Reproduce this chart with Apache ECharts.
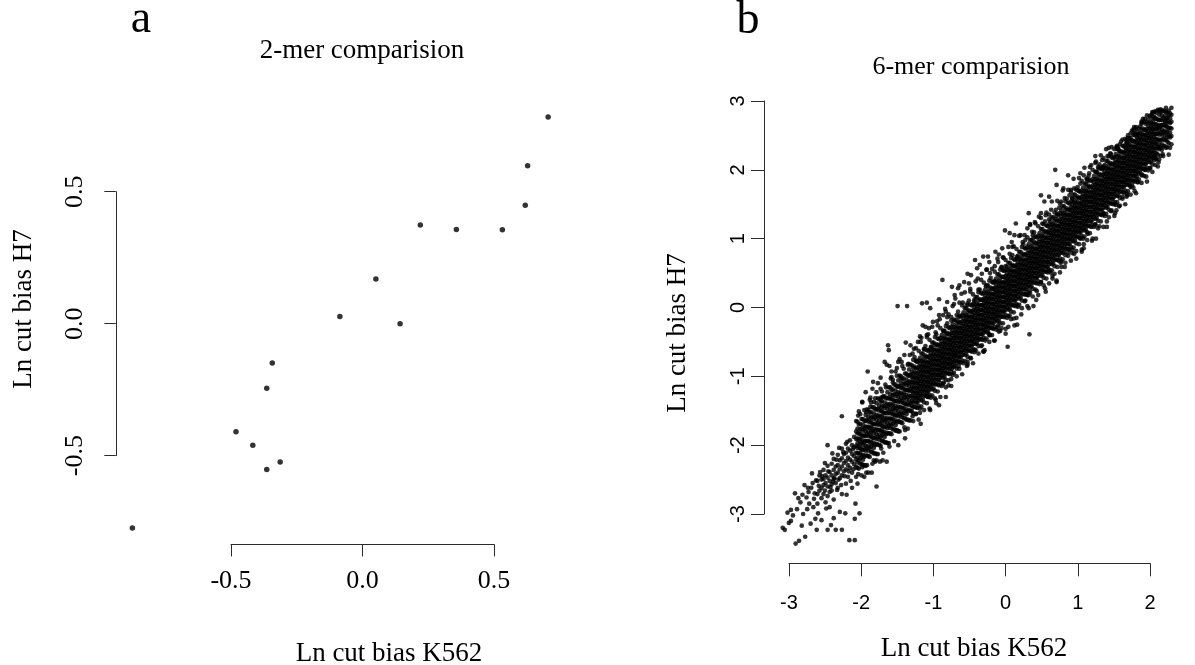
<!DOCTYPE html>
<html>
<head>
<meta charset="utf-8">
<title>2-mer / 6-mer comparision</title>
<script src="https://cdn.jsdelivr.net/npm/echarts@6/dist/echarts.min.js"></script>
<style>
 html,body{margin:0;padding:0;background:#fff;}
 #chart{width:1195px;height:665px;}
</style>
</head>
<body>
<div id="chart"></div>
<script>
// ---- panel a : 2-mer, Ln cut bias K562 vs H7 ----
var k562_2mer = [-0.875,-0.481,-0.417,-0.364,-0.313,-0.364,-0.343,-0.086,0.051,0.143,0.220,0.357,0.532,0.619,0.628,0.706];
var h7_2mer   = [-0.774,-0.409,-0.460,-0.552,-0.524,-0.245,-0.149,0.027,0.169,0.000,0.374,0.357,0.356,0.449,0.598,0.783];
var ticks2_x = [-0.5, 0, 0.5];
var ticks2_y = [-0.5, 0, 0.5];

// ---- panel b : 6-mer ----
// sparse dots, [K562, H7]
var mer6_outer = [
 [-3.07,-3.2],[-3.04,-3.23],[-2.95,-2.94],[-2.95,-3.1],[-2.89,-2.7],[-2.88,-3.43],[-2.83,-3.39],[-2.79,-3.17],[-2.75,-2.58],[-2.74,-3.33],
 [-2.71,-2.93],[-2.69,-2.68],[-2.66,-3.14],[-2.64,-2.41],[-2.59,-3.07],[-2.57,-3.23],[-2.55,-2.99],[-2.58,-2.51],[-2.52,-2.39],[-2.5,-3.09],
 [-2.47,-2.49],[-2.43,-2.92],[-2.41,-3.23],[-2.41,-2.0],[-2.38,-2.68],[-2.36,-3.16],[-2.32,-3.06],[-2.31,-2.48],[-2.29,-3.23],[-2.27,-2.65],
 [-2.23,-2.97],[-2.2,-1.58],[-2.2,-3.23],[-2.15,-2.99],[-2.13,-2.72],[-2.09,-3.38],[-2.01,-3.38],[-2.01,-3.07],[-2.0,-2.85],[-1.94,-2.99],
 [-1.97,-2.56],[-1.87,-2.46],[-1.81,-2.4],[-1.76,-2.4],[-1.69,-2.6],[-1.71,-2.24],[-1.69,-2.22],[-1.64,-2.24],[-1.6,-2.22],[-1.54,-2.24],
 [-2.86,-2.93],[-2.81,-2.83],[-2.77,-3.0],[-2.72,-2.76],[-2.68,-2.85],[-2.65,-2.62],[-2.62,-2.9],[-2.6,-2.7],
 [-2.54,-2.59],[-2.49,-2.45],[-2.45,-2.66],[-2.4,-2.38],[-2.37,-2.61],[-2.33,-2.53],[-2.28,-2.21],[-2.25,-2.5],[-2.21,-2.58],[-2.18,-2.1],
 [-2.16,-2.45],[-2.12,-1.95],[-2.1,-2.38],[-2.07,-2.52],[-2.04,-2.06],[-2.03,-2.35],[-2.45,-2.26],[-2.34,-2.12],[-2.24,-2.04],[-2.63,-2.55],
 [-2.61,-2.78],[-2.7,-2.62],[-2.78,-2.72],[-2.84,-2.77],[-2.92,-3.02],[-2.98,-3.13],[-3.0,-2.98],
 [-1.82,-0.93],[-1.74,-1.08],[-1.57,-0.79],[-1.54,-0.83],[-1.52,-0.55],[-1.51,-0.62],[-1.38,0.02],[-1.24,0.02],[-1.26,-0.51],[-1.37,-0.79],
 [-1.02,0.06],[-0.95,0.07],[-1.01,-0.26],[-0.97,-0.28],[-0.9,-0.01],[-0.77,0.12],[-0.72,0.4],[-0.65,0.08],[-0.58,0.3],[-0.49,0.28],
 [-0.35,0.49],[-0.24,0.69],[-0.21,0.57],[-0.12,0.74],[-0.05,0.74],[0.06,0.81],[0.11,0.77],[0.2,1.12],[0.27,1.08],[0.34,1.05],
 [0.36,1.22],[0.53,1.15],[0.55,1.37],[0.64,1.24],[0.7,1.32],[0.73,1.63],[0.78,1.54],[0.85,1.61],[0.94,2.0],[0.96,1.78],
 [1.06,1.73],[1.13,1.92],[1.17,1.71],[1.31,1.95],[1.36,1.92],[1.47,2.07],[1.54,2.12],[1.63,2.14],[1.63,2.04],[1.73,2.32],
 [1.84,2.33],[1.98,2.31],[2.05,2.46],[2.1,2.62],[2.14,2.5],[2.21,2.67],[2.26,2.74],[2.37,2.82],[2.47,2.62],[2.51,2.65],[2.56,2.7],[2.58,2.75],
 [-1.9,-1.37],[-1.85,-1.23],[-1.78,-1.44],[-1.69,-1.23],[-1.6,-1.3],[-1.48,-1.03],[-1.41,-0.93],[-1.32,-0.79],[-1.2,-0.69],[-1.14,-0.6],
 [-1.04,-0.5],[-0.95,-0.4],[-0.86,-0.21],[-0.77,-0.11],[-0.67,-0.06],[-0.54,0.18],[-0.47,0.32],[-0.4,0.37],[-0.3,0.47],[-0.17,0.62],
 [-0.03,0.66],[0.16,0.86],[0.3,0.95],[0.43,1.05],[0.57,1.2],[0.8,1.34],[1.03,1.54],[1.22,1.73],[1.4,1.87],[1.54,1.97],
 [0.24,-0.57],[0.56,-0.39],[0.34,-0.26],[0.38,-0.25],[0.25,-0.28],[-0.12,-0.64],[-0.1,-0.62],[-0.3,-0.74],[-0.35,-0.79],[-0.58,-0.89],
 [-0.63,-1.13],[-0.67,-1.3],[-0.77,-1.42],[-0.81,-1.39],[-0.9,-1.49],[-1.04,-1.69],[-1.11,-1.54],[-1.23,-1.76],[-1.27,-1.9],[-1.37,-2.0],
 [0.53,0.18],[0.55,-0.01],[0.66,0.11],[0.8,0.23],[0.9,0.42],[0.96,0.37],[1.03,0.59],[1.22,0.78],[1.33,0.81],[1.36,0.86],
 [1.54,1.0],[1.7,1.17],[1.82,1.37],[1.84,1.41],[2.0,1.63],[2.07,1.78],[2.14,1.9],[2.26,2.0],[2.47,2.33],[2.4,2.21],
 [-0.03,-0.4],[0.11,-0.35],[-0.54,-0.69],[-0.95,-1.27]
];
// dots on the ragged edge of the band, [K562, H7]
var mer6_edge = [
 [-1.96,-1.57],[-1.96,-2.42],[-1.9,-1.38],[-1.9,-2.32],[-1.84,-1.52],[-1.84,-2.4],[-1.78,-1.31],[-1.73,-1.37],[-1.73,-2.22],[-1.67,-1.1],
 [-1.62,-1.31],[-1.62,-2.05],[-1.56,-1.12],[-1.5,-0.85],[-1.5,-2.02],[-1.45,-1.09],[-1.39,-0.88],[-1.39,-1.78],[-1.33,-1.03],[-1.28,-0.69],
 [-1.28,-1.74],[-1.22,-0.82],[-1.16,-0.67],[-1.16,-1.58],[-1.1,-0.77],[-1.05,-0.42],[-1.05,-1.53],[-0.99,-0.61],[-0.93,-0.39],[-0.93,-1.3],
 [-0.88,-0.58],[-0.82,-0.36],[-0.82,-1.34],[-0.76,-0.17],[-0.7,-0.34],[-0.7,-1.09],[-0.65,-0.14],[-0.59,-0.19],[-0.59,-1.04],[-0.53,0.13],
 [-0.48,-0.14],[-0.48,-0.85],[-0.42,0.07],[-0.36,0.03],[-0.36,-0.85],[-0.31,0.27],[-0.25,0.11],[-0.25,-0.61],[-0.19,0.26],[-0.14,0.49],
 [-0.14,-0.55],[-0.08,0.31],[-0.02,0.5],[-0.02,-0.4],[0.04,0.38],[0.04,-0.48],[0.1,0.66],[0.1,-0.26],[0.15,0.58],[0.15,-0.3],
 [0.21,0.6],[0.21,-0.38],[0.27,-0.12],[0.27,0.78],[0.33,-0.16],[0.38,0.03],[0.38,0.74],[0.44,-0.1],[0.5,0.1],[0.5,0.98],
 [0.56,0.24],[0.62,0.02],[0.62,1.01],[0.67,0.24],[0.73,0.37],[0.73,1.3],[0.79,0.28],[0.85,0.53],[0.85,1.28],[0.9,0.46],
 [0.96,0.39],[0.96,1.33],[1.02,0.65],[1.08,0.59],[1.08,1.59],[1.13,0.8],[1.19,0.79],[1.19,1.59],[1.25,0.71],[1.31,1.0],
 [1.31,1.8],[1.36,0.92],[1.42,1.07],[1.42,1.84],[1.48,0.97],[1.53,1.21],[1.53,2.1],[1.59,1.18],[1.65,1.36],[1.65,2.05],
 [1.7,1.25],[1.76,1.4],[1.76,2.23],[1.82,1.51],[1.88,1.47],[1.88,2.28],[1.93,1.61],[1.99,1.61],[1.99,2.43],[2.05,1.76],
 [2.11,1.69],[2.11,2.53],[2.16,1.82],[2.22,1.93],[2.22,2.69],[2.28,1.9],[2.34,2.03],[2.4,2.14],[2.4,2.77],[2.46,2.11],[2.52,2.23],
 [-1.75,-1.18],[-1.63,-1.02],[-1.47,-0.93],[-1.35,-0.75],[-1.19,-0.55],[-1.08,-0.5],[-0.92,-0.3],[-0.8,-0.2],[-0.68,-0.02],[-0.57,0.02],
 [-0.44,0.2],[-0.33,0.35],[-0.2,0.42],[-0.07,0.55],[0.05,0.6],[0.18,0.72],[0.31,0.88],[0.46,0.95],[0.6,1.1],[0.75,1.22],
 [0.88,1.42],[1.0,1.45],[1.15,1.63],[1.28,1.7],[1.44,1.95],[1.58,2.02],[1.71,2.2],[1.86,2.32],[2.0,2.4],[2.12,2.6]
];
// dense part, one row per K562 value: [K562, H7, H7, ...]
var mer6_cols = [
 [-2.56,-2.52,-2.71,-2.85],[-2.53,-2.44,-2.66],[-2.5,-2.5,-2.62,-2.77],[-2.47,-2.36,-2.58,-2.71],[-2.44,-2.44,-2.55,-2.83],
 [-2.41,-2.3,-2.47,-2.6,-2.74],[-2.38,-2.39,-2.52,-2.9],[-2.35,-2.27,-2.44,-2.57,-2.66],[-2.32,-2.2,-2.36,-2.49,-2.79],
 [-2.29,-2.31,-2.42,-2.55],[-2.26,-2.14,-2.29,-2.4,-2.62],[-2.23,-2.22,-2.35,-2.48],[-2.2,-2.05,-2.19,-2.31,-2.44,-2.71],
 [-2.17,-2.13,-2.26,-2.38],[-2.14,-1.98,-2.11,-2.23,-2.35,-2.56],[-2.11,-2.05,-2.18,-2.29,-2.46],[-2.08,-1.93,-2.08,-2.21,-2.33],
 [-2.05,-2.0,-2.13,-2.24,-2.4,-2.62],[-2.02,-1.88,-2.03,-2.16,-2.28],
 [-1.99,-2.46,-2.32,-2.21,-2.11,-2.01,-1.91,-1.8,-1.65],
 [-1.95,-2.34,-2.22,-2.12,-2.02,-1.92,-1.82,-1.7,-1.51],
 [-1.91,-2.44,-2.27,-2.16,-2.06,-1.96,-1.86,-1.76,-1.62],
 [-1.87,-2.29,-2.17,-2.06,-1.96,-1.86,-1.76,-1.65,-1.49],
 [-1.83,-2.29,-2.15,-2.04,-1.94,-1.84,-1.74,-1.63,-1.48],
 [-1.79,-2.17,-2.05,-1.95,-1.85,-1.75,-1.65,-1.53,-1.34],
 [-1.75,-2.27,-2.1,-1.99,-1.89,-1.79,-1.69,-1.59,-1.45],
 [-1.71,-2.12,-2.0,-1.89,-1.79,-1.69,-1.59,-1.48,-1.32],
 [-1.67,-2.13,-1.99,-1.88,-1.78,-1.68,-1.58,-1.47,-1.32],
 [-1.63,-2.01,-1.89,-1.79,-1.69,-1.59,-1.49,-1.37,-1.18],
 [-1.59,-2.11,-1.94,-1.83,-1.73,-1.63,-1.53,-1.43,-1.29],
 [-1.55,-1.96,-1.84,-1.73,-1.63,-1.53,-1.43,-1.32,-1.16],
 [-1.51,-1.97,-1.83,-1.72,-1.62,-1.52,-1.42,-1.31,-1.16],
 [-1.47,-1.84,-1.72,-1.62,-1.52,-1.42,-1.32,-1.2,-1.01],
 [-1.43,-1.94,-1.77,-1.66,-1.56,-1.46,-1.36,-1.26,-1.12],
 [-1.39,-1.79,-1.67,-1.56,-1.46,-1.36,-1.26,-1.15,-0.99],
 [-1.35,-1.8,-1.66,-1.55,-1.45,-1.35,-1.25,-1.14,-0.99],
 [-1.31,-1.68,-1.56,-1.46,-1.36,-1.26,-1.16,-1.04,-0.85],
 [-1.27,-1.78,-1.61,-1.5,-1.4,-1.3,-1.2,-1.1,-0.96],
 [-1.23,-1.63,-1.51,-1.4,-1.3,-1.2,-1.1,-0.99,-0.83],
 [-1.19,-1.64,-1.5,-1.39,-1.29,-1.19,-1.09,-0.98,-0.83],
 [-1.15,-1.65,-1.54,-1.45,-1.38,-1.31,-1.24,-1.17,-1.1,-1.03,-0.96,-0.88,-0.76],
 [-1.11,-1.55,-1.45,-1.38,-1.31,-1.24,-1.17,-1.1,-1.03,-0.96,-0.88,-0.78,-0.59],
 [-1.07,-1.63,-1.43,-1.35,-1.28,-1.21,-1.14,-1.07,-1.0,-0.93,-0.86,-0.77,-0.63],
 [-1.03,-1.44,-1.35,-1.28,-1.21,-1.14,-1.07,-1.0,-0.93,-0.86,-0.78,-0.67,-0.44],
 [-0.99,-1.49,-1.38,-1.29,-1.22,-1.15,-1.08,-1.01,-0.94,-0.87,-0.8,-0.72,-0.6],
 [-0.95,-1.39,-1.29,-1.22,-1.15,-1.08,-1.01,-0.94,-0.87,-0.8,-0.72,-0.62,-0.43],
 [-0.91,-1.47,-1.27,-1.19,-1.12,-1.05,-0.98,-0.91,-0.84,-0.77,-0.7,-0.61,-0.47],
 [-0.87,-1.28,-1.19,-1.12,-1.05,-0.98,-0.91,-0.84,-0.77,-0.7,-0.62,-0.51,-0.28],
 [-0.83,-1.32,-1.21,-1.12,-1.05,-0.98,-0.91,-0.84,-0.77,-0.7,-0.63,-0.55,-0.43],
 [-0.79,-1.22,-1.12,-1.05,-0.98,-0.91,-0.84,-0.77,-0.7,-0.63,-0.55,-0.45,-0.26],
 [-0.75,-1.3,-1.1,-1.02,-0.95,-0.88,-0.81,-0.74,-0.67,-0.6,-0.53,-0.44,-0.3],
 [-0.71,-1.11,-1.02,-0.95,-0.88,-0.81,-0.74,-0.67,-0.6,-0.53,-0.45,-0.34,-0.11],
 [-0.67,-1.16,-1.05,-0.96,-0.89,-0.82,-0.75,-0.68,-0.61,-0.54,-0.47,-0.39,-0.27],
 [-0.63,-1.06,-0.96,-0.89,-0.82,-0.75,-0.68,-0.61,-0.54,-0.47,-0.39,-0.29,-0.1],
 [-0.59,-1.14,-0.94,-0.86,-0.79,-0.72,-0.65,-0.58,-0.51,-0.44,-0.37,-0.28,-0.14],
 [-0.55,-0.95,-0.86,-0.79,-0.72,-0.65,-0.58,-0.51,-0.44,-0.37,-0.29,-0.18,0.05],
 [-0.51,-1.0,-0.89,-0.8,-0.73,-0.66,-0.59,-0.52,-0.45,-0.38,-0.31,-0.23,-0.11],
 [-0.47,-0.89,-0.79,-0.72,-0.65,-0.58,-0.51,-0.44,-0.37,-0.3,-0.22,-0.12,0.07],
 [-0.43,-0.97,-0.77,-0.69,-0.62,-0.55,-0.48,-0.41,-0.34,-0.27,-0.2,-0.11,0.03],
 [-0.39,-0.78,-0.69,-0.62,-0.55,-0.48,-0.41,-0.34,-0.27,-0.2,-0.12,-0.01,0.22],
 [-0.35,-0.83,-0.72,-0.63,-0.56,-0.49,-0.42,-0.35,-0.28,-0.21,-0.14,-0.06,0.06],
 [-0.31,-0.73,-0.63,-0.56,-0.49,-0.42,-0.35,-0.28,-0.21,-0.14,-0.06,0.04,0.23],
 [-0.27,-0.81,-0.61,-0.53,-0.46,-0.39,-0.32,-0.25,-0.18,-0.11,-0.04,0.05,0.19],
 [-0.23,-0.62,-0.53,-0.46,-0.39,-0.32,-0.25,-0.18,-0.11,-0.04,0.04,0.15,0.38],
 [-0.19,-0.67,-0.56,-0.47,-0.4,-0.33,-0.26,-0.19,-0.12,-0.05,0.02,0.1,0.22],
 [-0.15,-0.56,-0.46,-0.39,-0.32,-0.25,-0.18,-0.11,-0.04,0.03,0.11,0.21,0.4],
 [-0.11,-0.64,-0.44,-0.36,-0.29,-0.22,-0.15,-0.08,-0.01,0.06,0.13,0.22,0.36],
 [-0.07,-0.45,-0.36,-0.29,-0.22,-0.15,-0.08,-0.01,0.06,0.13,0.21,0.32,0.55],
 [-0.03,-0.5,-0.39,-0.3,-0.23,-0.16,-0.09,-0.02,0.05,0.12,0.19,0.27,0.39],
 [0.01,-0.4,-0.3,-0.23,-0.16,-0.09,-0.02,0.05,0.12,0.19,0.27,0.37,0.56],
 [0.05,-0.48,-0.28,-0.2,-0.13,-0.06,0.01,0.08,0.15,0.22,0.29,0.38,0.52],
 [0.09,-0.29,-0.2,-0.13,-0.06,0.01,0.08,0.15,0.22,0.29,0.37,0.48,0.71],
 [0.13,-0.34,-0.23,-0.14,-0.07,0.0,0.07,0.14,0.21,0.28,0.35,0.43,0.55],
 [0.17,-0.23,-0.13,-0.06,0.01,0.08,0.15,0.22,0.29,0.36,0.44,0.54,0.73],
 [0.21,-0.31,-0.11,-0.03,0.04,0.11,0.18,0.25,0.32,0.39,0.46,0.55,0.69],
 [0.25,-0.12,-0.03,0.04,0.11,0.18,0.25,0.32,0.39,0.46,0.54,0.65,0.88],
 [0.29,-0.17,-0.06,0.03,0.1,0.17,0.24,0.31,0.38,0.45,0.52,0.6,0.72],
 [0.33,-0.07,0.03,0.1,0.17,0.24,0.31,0.38,0.45,0.52,0.6,0.7,0.89],
 [0.37,-0.15,0.05,0.13,0.2,0.27,0.34,0.41,0.48,0.55,0.62,0.71,0.85],
 [0.41,0.04,0.13,0.2,0.27,0.34,0.41,0.48,0.55,0.62,0.7,0.81,1.04],
 [0.45,-0.01,0.1,0.19,0.26,0.33,0.4,0.47,0.54,0.61,0.68,0.76,0.88],
 [0.49,0.09,0.19,0.26,0.33,0.4,0.47,0.54,0.61,0.68,0.76,0.86,1.05],
 [0.53,0.02,0.22,0.3,0.37,0.44,0.51,0.58,0.65,0.72,0.79,0.88,1.02],
 [0.57,0.21,0.3,0.37,0.44,0.51,0.58,0.65,0.72,0.79,0.87,0.98,1.21],
 [0.61,0.16,0.27,0.36,0.43,0.5,0.57,0.64,0.71,0.78,0.85,0.93,1.05],
 [0.65,0.26,0.36,0.43,0.5,0.57,0.64,0.71,0.78,0.85,0.93,1.03,1.22],
 [0.69,0.18,0.38,0.46,0.53,0.6,0.67,0.74,0.81,0.88,0.95,1.04,1.18],
 [0.73,0.37,0.46,0.53,0.6,0.67,0.74,0.81,0.88,0.95,1.03,1.14,1.37],
 [0.77,0.32,0.43,0.52,0.59,0.66,0.73,0.8,0.87,0.94,1.01,1.09,1.21],
 [0.81,0.42,0.52,0.59,0.66,0.73,0.8,0.87,0.94,1.01,1.09,1.19,1.38],
 [0.85,0.35,0.55,0.63,0.7,0.77,0.84,0.91,0.98,1.05,1.12,1.21,1.35],
 [0.89,0.54,0.63,0.7,0.77,0.84,0.91,0.98,1.05,1.12,1.2,1.31,1.54],
 [0.93,0.49,0.6,0.69,0.76,0.83,0.9,0.97,1.04,1.11,1.18,1.26,1.38],
 [0.97,0.59,0.69,0.76,0.83,0.9,0.97,1.04,1.11,1.18,1.26,1.36,1.55],
 [1.01,0.51,0.71,0.79,0.86,0.93,1.0,1.07,1.14,1.21,1.28,1.37,1.51],
 [1.05,0.7,0.79,0.86,0.93,1.0,1.07,1.14,1.21,1.28,1.36,1.47,1.7],
 [1.09,0.65,0.76,0.85,0.92,0.99,1.06,1.13,1.2,1.27,1.34,1.42,1.54],
 [1.13,0.75,0.85,0.92,0.99,1.06,1.13,1.2,1.27,1.34,1.42,1.52,1.71],
 [1.17,0.68,0.88,0.96,1.03,1.1,1.17,1.24,1.31,1.38,1.45,1.54,1.68],
 [1.21,0.87,0.96,1.03,1.1,1.17,1.24,1.31,1.38,1.45,1.53,1.64,1.87],
 [1.25,0.82,0.93,1.02,1.09,1.16,1.23,1.3,1.37,1.44,1.51,1.59,1.71],
 [1.29,0.92,1.02,1.09,1.16,1.23,1.3,1.37,1.44,1.51,1.59,1.69,1.88],
 [1.33,0.84,1.04,1.12,1.19,1.26,1.33,1.4,1.47,1.54,1.61,1.7,1.84],
 [1.37,1.03,1.12,1.19,1.26,1.33,1.4,1.47,1.54,1.61,1.69,1.8,2.03],
 [1.41,0.98,1.09,1.18,1.25,1.32,1.39,1.46,1.53,1.6,1.67,1.75,1.87],
 [1.45,1.08,1.18,1.25,1.32,1.39,1.46,1.53,1.6,1.67,1.75,1.85,2.04],
 [1.49,1.0,1.2,1.28,1.35,1.42,1.49,1.56,1.63,1.7,1.77,1.86,2.0],
 [1.53,1.2,1.29,1.36,1.43,1.5,1.57,1.64,1.71,1.78,1.86,1.97,2.2],
 [1.57,1.15,1.26,1.35,1.42,1.49,1.56,1.63,1.7,1.77,1.84,1.92,2.04],
 [1.61,1.25,1.35,1.42,1.49,1.56,1.63,1.7,1.77,1.84,1.92,2.02,2.21],
 [1.65,1.17,1.37,1.45,1.52,1.59,1.66,1.73,1.8,1.87,1.94,2.03,2.17],
 [1.69,1.36,1.45,1.52,1.59,1.66,1.73,1.8,1.87,1.94,2.02,2.13,2.3],
 [1.73,1.31,1.42,1.51,1.58,1.65,1.72,1.79,1.86,1.93,2.0,2.08,2.2],
 [1.77,1.41,1.51,1.58,1.65,1.72,1.79,1.86,1.93,2.0,2.08,2.18,2.33],
 [1.81,1.33,1.53,1.61,1.68,1.75,1.82,1.89,1.96,2.03,2.1,2.19,2.3],
 [1.85,1.53,1.62,1.69,1.76,1.83,1.9,1.97,2.04,2.11,2.19,2.3,2.35],
 [1.89,1.48,1.59,1.68,1.75,1.82,1.89,1.96,2.03,2.1,2.17,2.25,2.37],
 [1.93,1.58,1.68,1.75,1.82,1.89,1.96,2.03,2.1,2.17,2.25,2.35,2.44],
 [1.97,1.5,1.7,1.78,1.85,1.92,1.99,2.06,2.13,2.2,2.27,2.36,2.45],
 [2.01,1.69,1.78,1.85,1.92,1.99,2.06,2.13,2.2,2.27,2.35,2.46,2.5],
 [2.05,1.64,1.75,1.84,1.91,1.98,2.05,2.12,2.19,2.26,2.33,2.41,2.53],
 [2.09,1.74,1.84,1.91,1.98,2.05,2.12,2.19,2.26,2.33,2.41,2.51,2.58],
 [2.13,1.66,1.86,1.94,2.01,2.08,2.15,2.22,2.29,2.36,2.43,2.52,2.62],
 [2.17,1.86,1.95,2.02,2.09,2.16,2.23,2.3,2.37,2.44,2.52,2.6],
 [2.21,1.81,1.92,2.01,2.08,2.15,2.22,2.29,2.36,2.43,2.5,2.58,2.7],
 [2.25,1.91,2.01,2.08,2.15,2.22,2.29,2.36,2.43,2.5,2.58,2.7],
 [2.29,1.83,2.03,2.11,2.18,2.25,2.32,2.39,2.46,2.53,2.6,2.69,2.79],
 [2.33,2.02,2.11,2.18,2.25,2.32,2.39,2.46,2.53,2.6,2.68,2.78],
 [2.37,1.97,2.08,2.17,2.24,2.31,2.38,2.45,2.52,2.59,2.66,2.74,2.84],
 [2.41,2.07,2.17,2.24,2.31,2.38,2.45,2.52,2.59,2.66,2.74,2.85],
 [2.45,2.05,2.22,2.33,2.43,2.53,2.63,2.73,2.87],
 [2.49,2.2,2.32,2.43,2.53,2.63,2.73,2.84,2.88],
 [2.53,2.2,2.34,2.45,2.55,2.65,2.75,2.86],
 [2.57,2.32,2.44,2.54,2.64,2.74,2.84,2.9],
 [2.61,2.22,2.39,2.5,2.6,2.7,2.8,2.86],
 [2.65,2.37,2.49,2.6,2.7,2.8,2.9],
 [-1.97,-2.33,-2.25,-2.18,-2.11,-2.04,-1.97,-1.9,-1.83,-1.76,-1.66],
 [-1.93,-2.27,-2.19,-2.12,-2.05,-1.98,-1.91,-1.84,-1.77,-1.69,-1.55],
 [-1.89,-2.29,-2.21,-2.14,-2.07,-2.0,-1.93,-1.86,-1.79,-1.71,-1.62],
 [-1.85,-2.3,-2.15,-2.08,-2.01,-1.94,-1.87,-1.8,-1.73,-1.65,-1.56],
 [-1.81,-2.16,-2.08,-2.01,-1.94,-1.87,-1.8,-1.73,-1.66,-1.59,-1.49],
 [-1.77,-2.1,-2.02,-1.95,-1.88,-1.81,-1.74,-1.67,-1.6,-1.52,-1.38],
 [-1.73,-2.12,-2.04,-1.97,-1.9,-1.83,-1.76,-1.69,-1.62,-1.54,-1.45],
 [-1.69,-2.13,-1.98,-1.91,-1.84,-1.77,-1.7,-1.63,-1.56,-1.48,-1.39],
 [-1.65,-2.0,-1.92,-1.85,-1.78,-1.71,-1.64,-1.57,-1.5,-1.43,-1.33],
 [-1.61,-1.94,-1.86,-1.79,-1.72,-1.65,-1.58,-1.51,-1.44,-1.36,-1.22],
 [-1.57,-1.96,-1.88,-1.81,-1.74,-1.67,-1.6,-1.53,-1.46,-1.38,-1.29],
 [-1.53,-1.97,-1.82,-1.75,-1.68,-1.61,-1.54,-1.47,-1.4,-1.32,-1.23],
 [-1.49,-1.83,-1.75,-1.68,-1.61,-1.54,-1.47,-1.4,-1.33,-1.26,-1.16],
 [-1.45,-1.77,-1.69,-1.62,-1.55,-1.48,-1.41,-1.34,-1.27,-1.19,-1.05],
 [-1.41,-1.79,-1.71,-1.64,-1.57,-1.5,-1.43,-1.36,-1.29,-1.21,-1.12],
 [-1.37,-1.8,-1.65,-1.58,-1.51,-1.44,-1.37,-1.3,-1.23,-1.15,-1.06],
 [-1.33,-1.67,-1.59,-1.52,-1.45,-1.38,-1.31,-1.24,-1.17,-1.1,-1.0],
 [-1.29,-1.61,-1.53,-1.46,-1.39,-1.32,-1.25,-1.18,-1.11,-1.03,-0.89],
 [-1.25,-1.63,-1.55,-1.48,-1.41,-1.34,-1.27,-1.2,-1.13,-1.05,-0.96],
 [-1.21,-1.64,-1.49,-1.42,-1.35,-1.28,-1.21,-1.14,-1.07,-0.99,-0.9],
 [-1.17,-1.51,-1.43,-1.36,-1.29,-1.22,-1.15,-1.08,-1.01,-0.94,-0.84],
 [-1.13,-1.44,-1.36,-1.29,-1.22,-1.15,-1.08,-1.01,-0.94,-0.86,-0.72],
 [-1.09,-1.46,-1.38,-1.31,-1.24,-1.17,-1.1,-1.03,-0.96,-0.88,-0.79],
 [-1.05,-1.47,-1.32,-1.25,-1.18,-1.11,-1.04,-0.97,-0.9,-0.82,-0.73],
 [-1.01,-1.34,-1.26,-1.19,-1.12,-1.05,-0.98,-0.91,-0.84,-0.77,-0.67],
 [-0.97,-1.28,-1.2,-1.13,-1.06,-0.99,-0.92,-0.85,-0.78,-0.7,-0.56],
 [-0.93,-1.3,-1.22,-1.15,-1.08,-1.01,-0.94,-0.87,-0.8,-0.72,-0.63],
 [-0.89,-1.31,-1.16,-1.09,-1.02,-0.95,-0.88,-0.81,-0.74,-0.66,-0.57],
 [-0.85,-1.18,-1.1,-1.03,-0.96,-0.89,-0.82,-0.75,-0.68,-0.61,-0.51],
 [-0.81,-1.11,-1.03,-0.96,-0.89,-0.82,-0.75,-0.68,-0.61,-0.53,-0.39],
 [-0.77,-1.13,-1.05,-0.98,-0.91,-0.84,-0.77,-0.7,-0.63,-0.55,-0.46],
 [-0.73,-1.14,-0.99,-0.92,-0.85,-0.78,-0.71,-0.64,-0.57,-0.49,-0.4],
 [-0.69,-1.01,-0.93,-0.86,-0.79,-0.72,-0.65,-0.58,-0.51,-0.44,-0.34],
 [-0.65,-0.95,-0.87,-0.8,-0.73,-0.66,-0.59,-0.52,-0.45,-0.37,-0.23],
 [-0.61,-0.97,-0.89,-0.82,-0.75,-0.68,-0.61,-0.54,-0.47,-0.39,-0.3],
 [-0.57,-0.98,-0.83,-0.76,-0.69,-0.62,-0.55,-0.48,-0.41,-0.33,-0.24],
 [-0.53,-0.85,-0.77,-0.7,-0.63,-0.56,-0.49,-0.42,-0.35,-0.28,-0.18],
 [-0.49,-0.78,-0.7,-0.63,-0.56,-0.49,-0.42,-0.35,-0.28,-0.2,-0.06],
 [-0.45,-0.8,-0.72,-0.65,-0.58,-0.51,-0.44,-0.37,-0.3,-0.22,-0.13],
 [-0.41,-0.81,-0.66,-0.59,-0.52,-0.45,-0.38,-0.31,-0.24,-0.16,-0.07],
 [-0.37,-0.68,-0.6,-0.53,-0.46,-0.39,-0.32,-0.25,-0.18,-0.11,-0.01],
 [-0.33,-0.62,-0.54,-0.47,-0.4,-0.33,-0.26,-0.19,-0.12,-0.04,0.1],
 [-0.29,-0.64,-0.56,-0.49,-0.42,-0.35,-0.28,-0.21,-0.14,-0.06,0.03],
 [-0.25,-0.65,-0.5,-0.43,-0.36,-0.29,-0.22,-0.15,-0.08,0.0,0.09],
 [-0.21,-0.52,-0.44,-0.37,-0.3,-0.23,-0.16,-0.09,-0.02,0.05,0.15],
 [-0.17,-0.46,-0.38,-0.31,-0.24,-0.17,-0.1,-0.03,0.04,0.12,0.26],
 [-0.13,-0.47,-0.39,-0.32,-0.25,-0.18,-0.11,-0.04,0.03,0.11,0.2],
 [-0.09,-0.48,-0.33,-0.26,-0.19,-0.12,-0.05,0.02,0.09,0.17,0.26],
 [-0.05,-0.35,-0.27,-0.2,-0.13,-0.06,0.01,0.08,0.15,0.22,0.32],
 [-0.01,-0.29,-0.21,-0.14,-0.07,0.0,0.07,0.14,0.21,0.29,0.43],
 [0.03,-0.31,-0.23,-0.16,-0.09,-0.02,0.05,0.12,0.19,0.27,0.36],
 [0.07,-0.32,-0.17,-0.1,-0.03,0.04,0.11,0.18,0.25,0.33,0.42],
 [0.11,-0.19,-0.11,-0.04,0.03,0.1,0.17,0.24,0.31,0.38,0.48],
 [0.15,-0.13,-0.05,0.02,0.09,0.16,0.23,0.3,0.37,0.45,0.59],
 [0.19,-0.14,-0.06,0.01,0.08,0.15,0.22,0.29,0.36,0.44,0.53],
 [0.23,-0.15,0.0,0.07,0.14,0.21,0.28,0.35,0.42,0.5,0.59],
 [0.27,-0.02,0.06,0.13,0.2,0.27,0.34,0.41,0.48,0.55,0.65],
 [0.31,0.04,0.12,0.19,0.26,0.33,0.4,0.47,0.54,0.62,0.76],
 [0.35,0.02,0.1,0.17,0.24,0.31,0.38,0.45,0.52,0.6,0.69],
 [0.39,0.01,0.16,0.23,0.3,0.37,0.44,0.51,0.58,0.66,0.75],
 [0.43,0.14,0.22,0.29,0.36,0.43,0.5,0.57,0.64,0.71,0.81],
 [0.47,0.2,0.28,0.35,0.42,0.49,0.56,0.63,0.7,0.78,0.92],
 [0.51,0.19,0.27,0.34,0.41,0.48,0.55,0.62,0.69,0.77,0.86],
 [0.55,0.18,0.33,0.4,0.47,0.54,0.61,0.68,0.75,0.83,0.92],
 [0.59,0.31,0.39,0.46,0.53,0.6,0.67,0.74,0.81,0.88,0.98],
 [0.63,0.37,0.45,0.52,0.59,0.66,0.73,0.8,0.87,0.95,1.09],
 [0.67,0.35,0.43,0.5,0.57,0.64,0.71,0.78,0.85,0.93,1.02],
 [0.71,0.34,0.49,0.56,0.63,0.7,0.77,0.84,0.91,0.99,1.08],
 [0.75,0.47,0.55,0.62,0.69,0.76,0.83,0.9,0.97,1.04,1.14],
 [0.79,0.53,0.61,0.68,0.75,0.82,0.89,0.96,1.03,1.11,1.25],
 [0.83,0.51,0.59,0.66,0.73,0.8,0.87,0.94,1.01,1.09,1.18],
 [0.87,0.51,0.66,0.73,0.8,0.87,0.94,1.01,1.08,1.16,1.25],
 [0.91,0.64,0.72,0.79,0.86,0.93,1.0,1.07,1.14,1.21,1.31],
 [0.95,0.7,0.78,0.85,0.92,0.99,1.06,1.13,1.2,1.28,1.42],
 [0.99,0.68,0.76,0.83,0.9,0.97,1.04,1.11,1.18,1.26,1.35],
 [1.03,0.67,0.82,0.89,0.96,1.03,1.1,1.17,1.24,1.32,1.41],
 [1.07,0.8,0.88,0.95,1.02,1.09,1.16,1.23,1.3,1.37,1.47],
 [1.11,0.86,0.94,1.01,1.08,1.15,1.22,1.29,1.36,1.44,1.58],
 [1.15,0.84,0.92,0.99,1.06,1.13,1.2,1.27,1.34,1.42,1.51],
 [1.19,0.84,0.99,1.06,1.13,1.2,1.27,1.34,1.41,1.49,1.58],
 [1.23,0.97,1.05,1.12,1.19,1.26,1.33,1.4,1.47,1.54,1.64],
 [1.27,1.03,1.11,1.18,1.25,1.32,1.39,1.46,1.53,1.61,1.75],
 [1.31,1.01,1.09,1.16,1.23,1.3,1.37,1.44,1.51,1.59,1.68],
 [1.35,1.0,1.15,1.22,1.29,1.36,1.43,1.5,1.57,1.65,1.74],
 [1.39,1.13,1.21,1.28,1.35,1.42,1.49,1.56,1.63,1.7,1.8],
 [1.43,1.19,1.27,1.34,1.41,1.48,1.55,1.62,1.69,1.77,1.91],
 [1.47,1.17,1.25,1.32,1.39,1.46,1.53,1.6,1.67,1.75,1.84],
 [1.51,1.17,1.32,1.39,1.46,1.53,1.6,1.67,1.74,1.82,1.91],
 [1.55,1.3,1.38,1.45,1.52,1.59,1.66,1.73,1.8,1.87,1.97],
 [1.59,1.36,1.44,1.51,1.58,1.65,1.72,1.79,1.86,1.94,2.08],
 [1.63,1.34,1.42,1.49,1.56,1.63,1.7,1.77,1.84,1.92,2.01],
 [1.67,1.33,1.48,1.55,1.62,1.69,1.76,1.83,1.9,1.98,2.07],
 [1.71,1.46,1.54,1.61,1.68,1.75,1.82,1.89,1.96,2.03,2.13],
 [1.75,1.52,1.6,1.67,1.74,1.81,1.88,1.95,2.02,2.1,2.24],
 [1.79,1.5,1.58,1.65,1.72,1.79,1.86,1.93,2.0,2.08,2.17],
 [1.83,1.49,1.64,1.71,1.78,1.85,1.92,1.99,2.06,2.14,2.23],
 [1.87,1.63,1.71,1.78,1.85,1.92,1.99,2.06,2.13,2.2,2.3],
 [1.91,1.69,1.77,1.84,1.91,1.98,2.05,2.12,2.19,2.27,2.41],
 [1.95,1.67,1.75,1.82,1.89,1.96,2.03,2.1,2.17,2.25,2.34],
 [1.99,1.66,1.81,1.88,1.95,2.02,2.09,2.16,2.23,2.31,2.4],
 [2.03,1.79,1.87,1.94,2.01,2.08,2.15,2.22,2.29,2.36,2.46],
 [2.07,1.85,1.93,2.0,2.07,2.14,2.21,2.28,2.35,2.43,2.57],
 [2.11,1.83,1.91,1.98,2.05,2.12,2.19,2.26,2.33,2.41,2.5],
 [2.15,1.82,1.97,2.04,2.11,2.18,2.25,2.32,2.39,2.47,2.56],
 [2.19,1.96,2.04,2.11,2.18,2.25,2.32,2.39,2.46,2.53,2.63],
 [2.23,2.02,2.1,2.17,2.24,2.31,2.38,2.45,2.52,2.6,2.74],
 [2.27,2.0,2.08,2.15,2.22,2.29,2.36,2.43,2.5,2.58,2.67],
 [2.31,1.99,2.14,2.21,2.28,2.35,2.42,2.49,2.56,2.64,2.73],
 [2.35,2.12,2.2,2.27,2.34,2.41,2.48,2.55,2.62,2.69,2.79],
 [2.39,2.18,2.26,2.33,2.4,2.47,2.54,2.61,2.68,2.76,2.84],
 [2.43,2.16,2.24,2.31,2.38,2.45,2.52,2.59,2.66,2.74,2.83],
 [2.47,2.15,2.3,2.37,2.44,2.51,2.58,2.65,2.72,2.8,2.86],
 [2.51,2.29,2.37,2.44,2.51,2.58,2.65,2.72,2.79,2.86],
 [2.55,2.35,2.43,2.5,2.57,2.64,2.71,2.78,2.85],
 [2.59,2.33,2.41,2.48,2.55,2.62,2.69,2.76,2.83],
 [2.63,2.32,2.47,2.54,2.61,2.68,2.75,2.82]
];
var ticks6_x = [-3, -2, -1, 0, 1, 2];
var ticks6_y = [-3, -2, -1, 0, 1, 2, 3];

// ---- look ----
var SERIF = '"Liberation Serif","Times New Roman",serif';
var SANS  = '"Liberation Sans",Arial,sans-serif';
var INK = '#000', AXIS = '#2b2b2b';

// plot regions (px) and their value ranges
var PA = {left:115.8, top:100.6, width:448.9, height:443.8, xMin:-0.938, xMax:0.769, yMin:-0.836, yMax:0.845};
var PB = {left:764, top:40, width:458, height:523.3, xMin:-3.346, xMax:2.997, yMin:-3.716, yMax:3.886};

function xPx(p,v){return p.left+(v-p.xMin)/(p.xMax-p.xMin)*p.width;}
function yPx(p,v){return p.top+(p.yMax-v)/(p.yMax-p.yMin)*p.height;}

var grids=[], xAxes=[], yAxes=[];
function dataGrid(p){
 grids.push({left:p.left,top:p.top,width:p.width,height:p.height});
 var i=grids.length-1;
 xAxes.push({gridIndex:i,type:'value',min:p.xMin,max:p.xMax,show:false});
 yAxes.push({gridIndex:i,type:'value',min:p.yMin,max:p.yMax,show:false});
 return i;
}
// R style axis: line only between first and last tick
function bottomAxis(p,t,o){
 var l=xPx(p,t[0]), r=xPx(p,t[t.length-1]);
 grids.push({left:l,width:r-l,top:p.top,height:p.height});
 var i=grids.length-1;
 xAxes.push({gridIndex:i,type:'value',position:'bottom',min:t[0],max:t[t.length-1],interval:t[1]-t[0],
  axisLine:{show:true,onZero:false,lineStyle:{color:AXIS,width:1}},
  axisTick:{show:true,length:o.tick,lineStyle:{color:AXIS,width:1}},
  splitLine:{show:false},
  axisLabel:{margin:o.margin,fontFamily:o.font,fontSize:o.size,color:INK,align:'center',verticalAlign:'middle',formatter:o.fmt}});
 yAxes.push({gridIndex:i,type:'value',show:false});
}
function leftAxis(p,t,o){
 var top=yPx(p,t[t.length-1]), bot=yPx(p,t[0]);
 grids.push({left:p.left,width:p.width,top:top,height:bot-top});
 var i=grids.length-1;
 xAxes.push({gridIndex:i,type:'value',show:false});
 yAxes.push({gridIndex:i,type:'value',position:'left',min:t[0],max:t[t.length-1],interval:t[1]-t[0],
  axisLine:{show:true,onZero:false,lineStyle:{color:AXIS,width:1}},
  axisTick:{show:true,length:o.tick,lineStyle:{color:AXIS,width:1}},
  splitLine:{show:false},
  axisLabel:{margin:o.margin,rotate:90,fontFamily:o.font,fontSize:o.size,color:INK,align:'center',verticalAlign:'middle',formatter:o.fmt}});
}

var ia=dataGrid(PA), ib=dataGrid(PB);
var fmt1=function(v){return v.toFixed(1);}, fmt0=function(v){return String(v);};
bottomAxis(PA,ticks2_x,{tick:12,margin:37,font:SERIF,size:26,fmt:fmt1});
leftAxis(PA,ticks2_y,{tick:11.5,margin:41,font:SERIF,size:26,fmt:fmt1});
bottomAxis(PB,ticks6_x,{tick:13,margin:40,font:SANS,size:20,fmt:fmt0});
leftAxis(PB,ticks6_y,{tick:13,margin:26,font:SANS,size:20,fmt:fmt0});

var pts2=k562_2mer.map(function(v,i){return [v,h7_2mer[i]];});
var pts6=mer6_outer.concat(mer6_edge);
mer6_cols.forEach(function(r){for(var j=1;j<r.length;j++)pts6.push([r[0],r[j]]);});

function label(txt,x,y,size,rot){
 return {type:'text',x:x,y:y,rotation:rot||0,silent:true,
  style:{text:txt,fill:INK,font:size+'px '+SERIF,textAlign:'center',textVerticalAlign:'middle'}};
}

var chart=echarts.init(document.getElementById('chart'),null,{renderer:'canvas'});
chart.setOption({
 animation:false,
 backgroundColor:'#fff',
 grid:grids, xAxis:xAxes, yAxis:yAxes,
 series:[
  {type:'scatter',xAxisIndex:ia,yAxisIndex:ia,data:pts2,symbol:'circle',symbolSize:5.5,itemStyle:{color:INK},silent:true},
  {type:'scatter',xAxisIndex:ib,yAxisIndex:ib,data:pts6,symbol:'circle',symbolSize:4.7,itemStyle:{color:INK},silent:true}
 ],
 graphic:[
  label('a',141,20,46),
  label('2-mer comparision',362,51,27),
  label('Ln cut bias K562',389,654,27),
  label('Ln cut bias H7',24,309,27,Math.PI/2),
  label('b',748,21,46),
  label('6-mer comparision',971,67,26),
  label('Ln cut bias K562',974,649,27),
  label('Ln cut bias H7',678,333,27,Math.PI/2)
 ]
});
</script>
</body>
</html>
